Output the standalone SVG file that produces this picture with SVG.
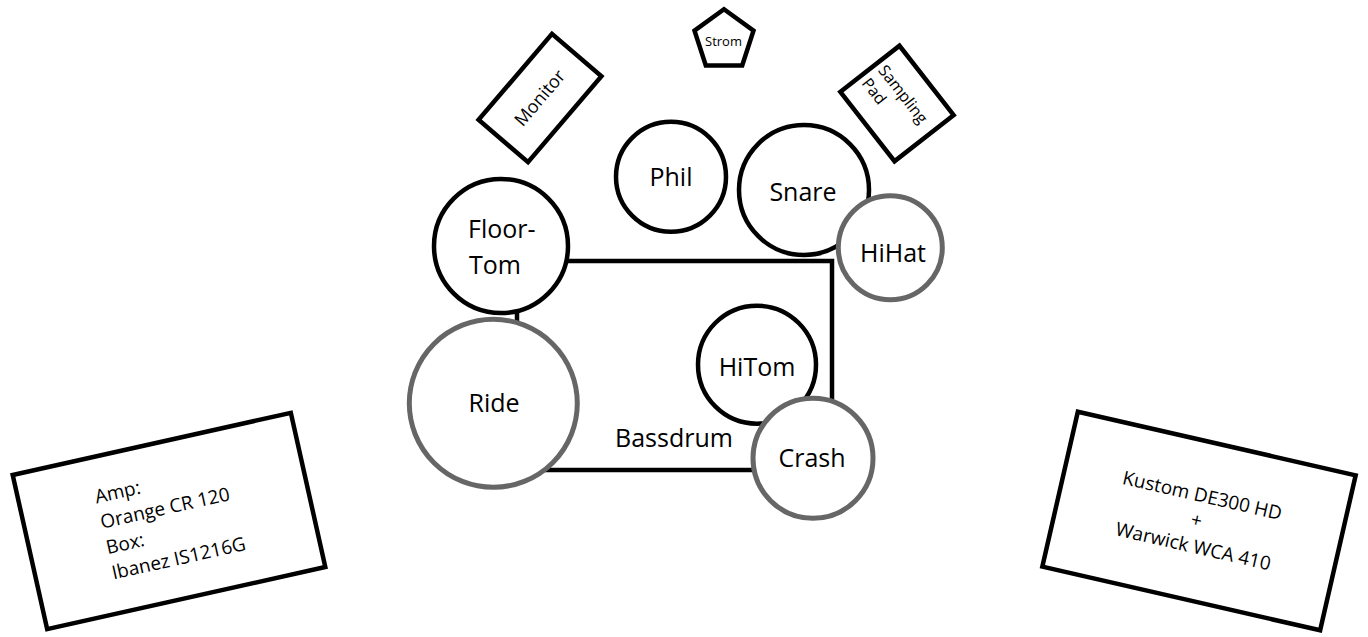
<svg xmlns="http://www.w3.org/2000/svg" width="1368" height="637" viewBox="0 0 1368 637">
<style>
  .blk { fill: #fff; stroke: #000; stroke-width: 4.5; }
  .gry { fill: #fff; stroke: #666; stroke-width: 5; }
  .lbl { font-family: "Open Sans", "Noto Sans", sans-serif; fill: #000; }
  .drum { font-size: 25px; text-anchor: middle; }
</style>
<rect width="1368" height="637" fill="#fff"/>
<g id="connectors"></g>
<g id="bassdrum">
  <rect class="blk" x="517" y="261" width="315" height="209" fill="none"/>
  <text class="lbl drum" x="674" y="447">Bassdrum</text>
</g>
<g id="strom">
  <polygon class="blk" points="724,9.3 753.5,30.7 742.2,65.4 705.8,65.4 694.5,30.7"/>
  <text class="lbl" x="723.5" y="46" font-size="13" text-anchor="middle">Strom</text>
</g>
<g id="monitor" transform="translate(540,98) rotate(-49.5)">
  <rect class="blk" x="-56.5" y="-32.5" width="113" height="65"/>
  <text class="lbl" x="0" y="6" font-size="18" text-anchor="middle">Monitor</text>
</g>
<g id="sampling-pad" transform="translate(897,103.5) rotate(52)">
  <rect class="blk" x="-44" y="-37.5" width="88" height="75"/>
  <text class="lbl" x="-38" y="-5" font-size="16">Sampling</text>
  <text class="lbl" x="-38" y="16" font-size="16">Pad</text>
</g>
<g id="phil">
  <circle class="blk" cx="671" cy="176.7" r="55"/>
  <text class="lbl drum" x="671" y="186">Phil</text>
</g>
<g id="snare">
  <circle class="blk" cx="804" cy="190" r="65"/>
  <text class="lbl drum" x="803" y="200.5">Snare</text>
</g>
<g id="hihat">
  <circle class="gry" cx="890.3" cy="247.7" r="52"/>
  <text class="lbl drum" x="893" y="261.5">HiHat</text>
</g>
<g id="floor-tom">
  <circle class="blk" cx="501" cy="246" r="67"/>
  <text class="lbl" x="468" y="238" font-size="25">Floor-</text>
  <text class="lbl" x="469" y="274" font-size="25">Tom</text>
</g>
<g id="ride">
  <circle class="gry" cx="493.3" cy="403.3" r="84"/>
  <text class="lbl drum" x="494" y="411.5">Ride</text>
</g>
<g id="hitom">
  <circle class="blk" cx="757" cy="364.7" r="59"/>
  <text class="lbl drum" x="757" y="376">HiTom</text>
</g>
<g id="crash">
  <circle class="gry" cx="813" cy="458.3" r="60"/>
  <text class="lbl drum" x="812" y="467.3">Crash</text>
</g>
<g id="guitar-amp" transform="translate(169,521) rotate(-12.6)">
  <rect class="blk" x="-142.5" y="-79" width="285" height="158"/>
  <text class="lbl" font-size="19">
    <tspan x="-67" y="-33">Amp:</tspan>
    <tspan x="-67" y="-7">Orange CR 120</tspan>
    <tspan x="-67" y="19">Box:</tspan>
    <tspan x="-67" y="45">Ibanez IS1216G</tspan>
  </text>
</g>
<g id="bass-amp" transform="translate(1199,521) rotate(12.9)">
  <rect class="blk" x="-142.5" y="-79.5" width="285" height="159"/>
  <text class="lbl" font-size="19" text-anchor="middle">
    <tspan x="0" y="-19">Kustom DE300 HD</tspan>
    <tspan x="0" y="6.5">+</tspan>
    <tspan x="0" y="32.5">Warwick WCA 410</tspan>
  </text>
</g>
</svg>
